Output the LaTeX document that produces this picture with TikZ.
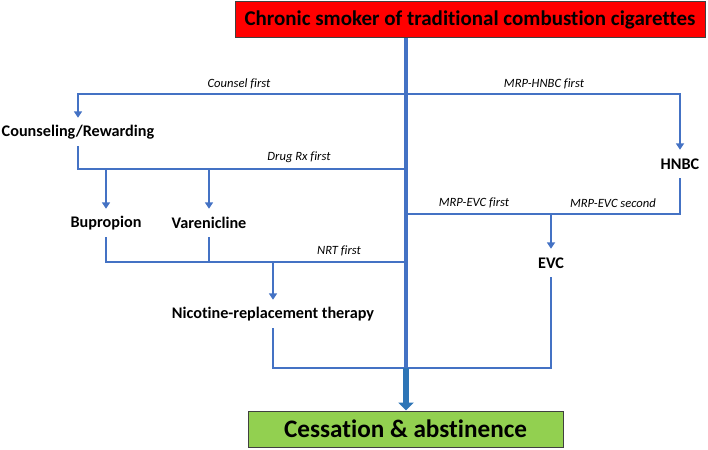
\documentclass[tikz,border=0pt]{standalone}
\usepackage{fontspec}
\setmainfont[Ligatures=NoCommon]{Carlito}
\usetikzlibrary{arrows.meta}
\definecolor{lineblue}{HTML}{4472C4}
\definecolor{thickblue}{HTML}{2E75B6}
\definecolor{boxred}{HTML}{FF0000}
\definecolor{boxgreen}{HTML}{92D050}
\tikzset{
  conn/.style={draw=lineblue, line width=2.6pt},
  arr/.style={conn, -{Triangle[width=8pt,length=6.5pt]}},
  lbl/.style={font=\fontsize{16.2}{18}\selectfont\bfseries, inner sep=0pt, minimum height=28pt},
  pth/.style={font=\fontsize{12.6}{14}\selectfont\itshape, inner sep=0pt},
  bigbox/.style={draw=black!75, line width=1pt, inner sep=0pt, font=\bfseries}
}
\begin{document}
\begin{tikzpicture}[x=1pt,y=-1pt]
\useasboundingbox (0,0) rectangle (708,449);
% boxes
\node[bigbox, fill=boxred, minimum width=470pt, minimum height=36pt, font=\fontsize{21}{24}\selectfont\bfseries] (top) at (470,20) {Chronic smoker of traditional combustion cigarettes};
\node[bigbox, fill=boxgreen, minimum width=315pt, minimum height=36pt, font=\fontsize{25.2}{28}\selectfont\bfseries] (bot) at (405.5,429) {Cessation \& abstinence};
% labels
\node[lbl] (couns) at (78,132) {Counseling/Rewarding};
\node[lbl] (bup) at (106,223) {Bupropion};
\node[lbl] (var) at (209,223) {Varenicline};
\node[lbl] (nrt) at (273,314) {Nicotine-replacement therapy};
\node[lbl] (hnbc) at (680,164) {HNBC};
\node[lbl] (evc) at (551,263) {EVC};
% junctions on main line
\coordinate (c1) at (406,94);
\coordinate (c2) at (406,169);
\coordinate (c3) at (406,262);
\coordinate (c4) at (406,214);
\coordinate (c5) at (406,368);
% path labels
\node[pth] (lc) at (239,84) {Counsel first};
\node[pth] (ld) at (299,157) {Drug Rx first};
\node[pth] (ln) at (339,251) {NRT first};
\node[pth] (lh) at (544,84) {MRP-HNBC first};
\node[pth] (le1) at (474,203) {MRP-EVC first};
\node[pth] (le2) at (613,203) {MRP-EVC second};
% connectors
\draw[arr] (c1) -| (couns.north);
\draw[arr] (c1) -| (hnbc.north);
\draw[conn] (couns.south) |- (c2);
\draw[arr] (bup.north |- c2) -- (bup.north);
\draw[arr] (var.north |- c2) -- (var.north);
\draw[conn] (bup.south) |- (c3);
\draw[conn] (var.south) -- (var.south |- c3);
\draw[arr] (nrt.north |- c3) -- (nrt.north);
\draw[conn] (hnbc.south) |- (c4);
\draw[arr] (evc.north |- c4) -- (evc.north);
\draw[conn] (nrt.south) |- (c5);
\draw[conn] (evc.south) |- (c5);
\draw[draw=lineblue, line width=3.2pt] (top.south -| c1) -- (c5);
\draw[draw=thickblue, line width=6.5pt, -{Triangle[width=15pt,length=8pt]}] (c5) -- (bot.north -| c5);
\end{tikzpicture}
\end{document}
